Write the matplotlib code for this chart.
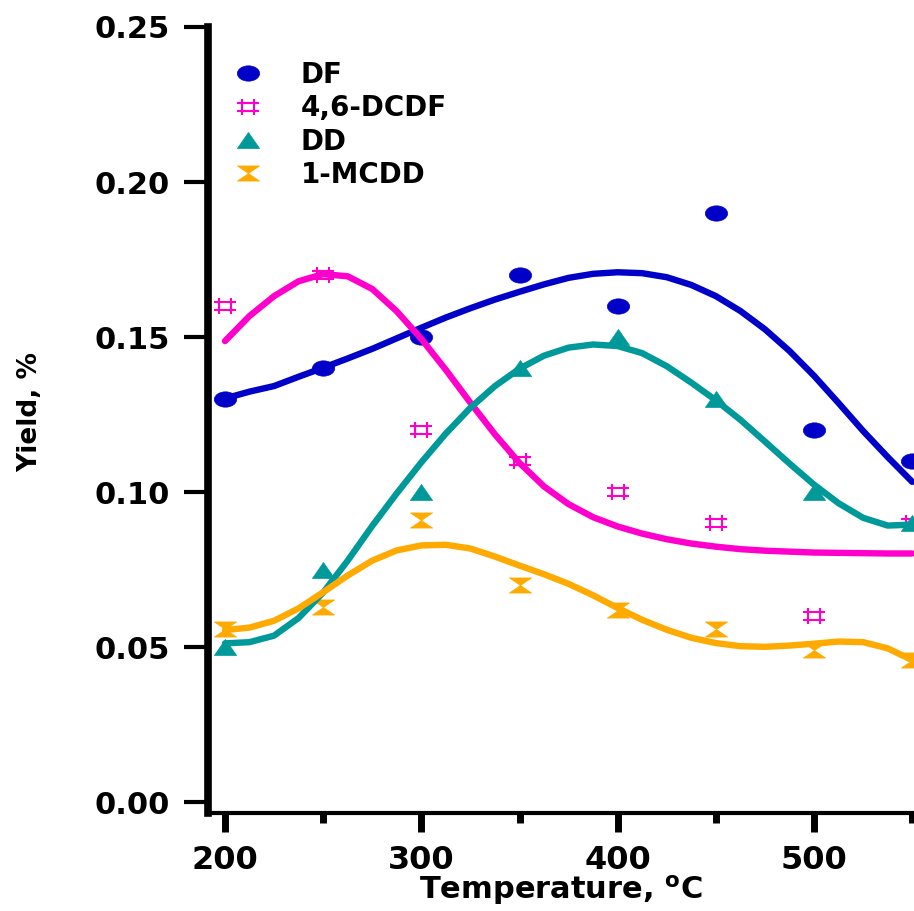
import numpy as np
import matplotlib.pyplot as plt
from matplotlib.path import Path
from matplotlib.transforms import Affine2D
from matplotlib.ticker import MultipleLocator, FormatStrFormatter

plt.rcParams['font.family'] = ['DejaVu Sans']
plt.rcParams['font.weight'] = 'bold'

# measured points
temp = [200, 250, 300, 350, 400, 450, 500, 550]
df = [0.130, 0.140, 0.150, 0.170, 0.160, 0.190, 0.120, 0.110]
dcdf = [0.160, 0.170, 0.120, 0.110, 0.100, 0.090, 0.060, 0.090]
dd = [0.050, 0.075, 0.100, 0.140, 0.150, 0.130, 0.100, 0.090]
mcdd = [0.056, 0.063, 0.091, 0.070, 0.062, 0.056, 0.049, 0.046]

# fitted curves, every 12.5 C
t_fit = np.arange(200, 550.1, 12.5)
df_fit = [0.1302, 0.1324, 0.1342, 0.1372, 0.1401, 0.1431, 0.1462, 0.1496, 0.1530, 0.1563,
          0.1593, 0.1621, 0.1646, 0.1670, 0.1691, 0.1704, 0.1709, 0.1706, 0.1693, 0.1668,
          0.1632, 0.1584, 0.1525, 0.1455, 0.1375, 0.1287, 0.1197, 0.1113, 0.1033]
dcdf_fit = [0.1487, 0.1568, 0.1632, 0.1680, 0.1703, 0.1696, 0.1655, 0.1583, 0.1494, 0.1394,
            0.1288, 0.1186, 0.1094, 0.1018, 0.0961, 0.0919, 0.0889, 0.0866, 0.0848, 0.0834,
            0.0824, 0.0816, 0.0811, 0.0808, 0.0805, 0.0804, 0.0803, 0.0802, 0.0802]
dd_fit = [0.0512, 0.0516, 0.0537, 0.0594, 0.0676, 0.0779, 0.0891, 0.0996, 0.1096, 0.1189,
          0.1272, 0.1342, 0.1398, 0.1440, 0.1466, 0.1476, 0.1471, 0.1448, 0.1406, 0.1353,
          0.1296, 0.1233, 0.1163, 0.1092, 0.1024, 0.0964, 0.0917, 0.0892, 0.0895]
mcdd_fit = [0.0555, 0.0563, 0.0585, 0.0625, 0.0677, 0.0731, 0.0779, 0.0812, 0.0828, 0.0830,
            0.0818, 0.0792, 0.0763, 0.0735, 0.0704, 0.0667, 0.0626, 0.0588, 0.0556, 0.0530,
            0.0513, 0.0503, 0.0501, 0.0505, 0.0511, 0.0518, 0.0516, 0.0496, 0.0458]

names = ['DF', '4,6-DCDF', 'DD', '1-MCDD']
colors = ['#0000C8', '#FF00CC', '#009999', '#FFAA00']

# custom markers (the original is stretched sideways)
ellipse = Path.unit_circle().transformed(Affine2D().scale(1.45, 1.0))
hash_m = Path([(-0.5, -0.68), (-0.5, 0.68), (0.5, -0.68), (0.5, 0.68),
               (-1, -0.34), (1, -0.34), (-1, 0.34), (1, 0.34)],
              [Path.MOVETO, Path.LINETO] * 4)
tri = Path([(-1, -0.72), (1, -0.72), (0, 0.72), (-1, -0.72)],
           [Path.MOVETO, Path.LINETO, Path.LINETO, Path.CLOSEPOLY])
hourglass = Path([(-1, 0.68), (1, 0.68), (0, 0), (1, -0.68), (-1, -0.68), (0, 0), (-1, 0.68)],
                 [Path.MOVETO] + [Path.LINETO] * 5 + [Path.CLOSEPOLY])

fig = plt.figure(figsize=(9.14, 9.11), dpi=100)
ax = fig.add_axes([207.5 / 914, 98 / 911, 1 - 207.5 / 914, (813 - 27) / 911])

series = [(df, df_fit, ellipse), (dcdf, dcdf_fit, hash_m), (dd, dd_fit, tri), (mcdd, mcdd_fit, hourglass)]
handles = []
for (pts, fit, mk), c, name in zip(series, colors, names):
    if mk is hash_m:
        h, = ax.plot(temp, pts, ls='none', marker=mk, ms=16, mfc='none', mec=c, mew=1.5,
                     label=name, zorder=3)
    else:
        h, = ax.plot(temp, pts, ls='none', marker=mk, ms=16, mfc=c, mec=c, mew=0.5,
                     label=name, zorder=3)
    handles.append(h)
    ax.plot(t_fit, fit, color=c, lw=4.6, solid_capstyle='round', solid_joinstyle='round', zorder=4)

ax.set_xlim(191.1, 550.9)
ax.set_ylim(-0.0035, 0.25)

for s in ['top', 'right']:
    ax.spines[s].set_visible(False)
ax.spines['left'].set_linewidth(5.5)
ax.spines['bottom'].set_linewidth(3)

ax.xaxis.set_major_locator(MultipleLocator(100))
ax.xaxis.set_minor_locator(MultipleLocator(50))
ax.yaxis.set_major_locator(MultipleLocator(0.05))
ax.yaxis.set_major_formatter(FormatStrFormatter('%.2f'))
ax.tick_params(axis='x', which='major', length=14, width=5, pad=9, labelsize=23)
ax.tick_params(axis='x', which='minor', length=7, width=5)
ax.tick_params(axis='y', which='major', length=17, width=3, pad=10, labelsize=22)

ax.set_xlabel('Temperature, $^\\mathregular{o}$C', fontsize=22, fontweight='bold', labelpad=-2)
ax.set_ylabel('Yield, %', fontsize=19, fontweight='bold')
ax.yaxis.set_label_coords(-0.233, 0.51)

ax.legend(handles=handles, loc='upper left', bbox_to_anchor=(234 / 914, (911 - 61) / 911),
          bbox_transform=fig.transFigure,
          frameon=False, fontsize=20, handlelength=1.0, handletextpad=1.4,
          labelspacing=0.19, borderpad=0, borderaxespad=0, markerscale=1.0)

fig.savefig('out.png', dpi=100)
